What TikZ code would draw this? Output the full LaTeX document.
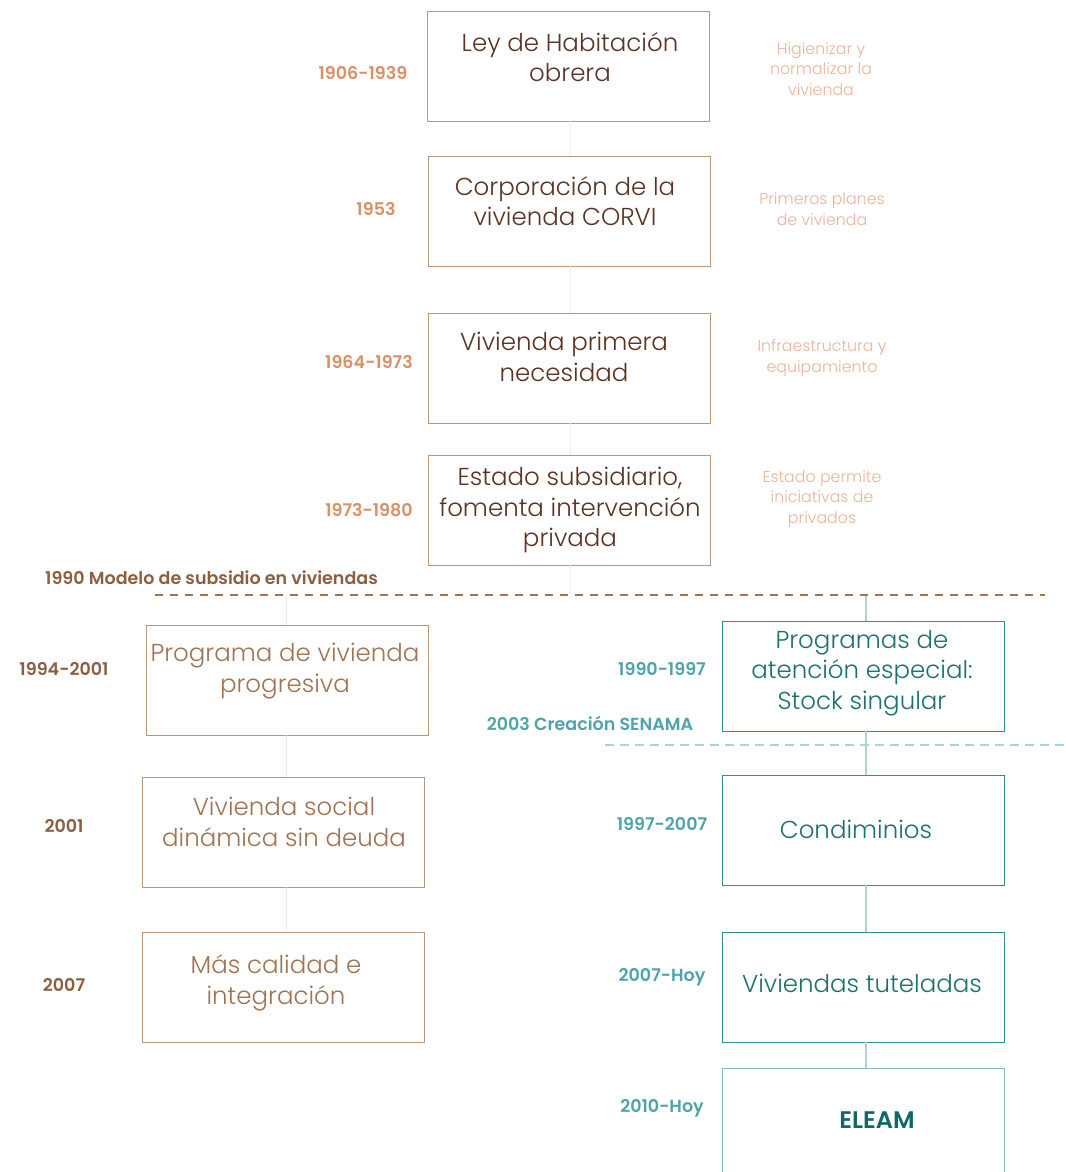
\documentclass[tikz,border=0pt]{standalone}
\usepackage{fontspec}
\setmainfont{Poppins}[UprightFont={* Light}, BoldFont={* SemiBold}]
\definecolor{brdark}{HTML}{5A3322}
\definecolor{brmid}{HTML}{A07352}
\definecolor{brdate}{HTML}{8C5E3F}
\definecolor{brframe}{HTML}{B8967C}
\definecolor{salmon}{HTML}{D98F68}
\definecolor{salmonlt}{HTML}{EBB39B}
\definecolor{tealframe}{HTML}{2E8E8A}
\definecolor{tealtext}{HTML}{1D716C}
\definecolor{tealdate}{HTML}{4FA3AA}
\definecolor{tealdark}{HTML}{0F6A66}
\definecolor{tealline}{HTML}{A9D3D6}
\definecolor{greyline}{HTML}{EDEDED}
\tikzset{
  card/.style={draw=brframe, line width=0.9pt, minimum width=282pt, minimum height=110pt, inner sep=0pt, fill=white},
  tcard/.style={card, draw=tealframe},
  cardtxt/.style={align=center, inner sep=0pt, font=\fontsize{24.5}{30.5}\selectfont, text=brdark},
  lcardtxt/.style={cardtxt, text=brmid},
  tcardtxt/.style={cardtxt, text=tealtext},
  datetop/.style={font=\bfseries\fontsize{17.5}{20}\selectfont, text=salmon, inner sep=0pt},
  dateleft/.style={datetop, text=brdate},
  dateteal/.style={datetop, text=tealdate},
  note/.style={align=center, inner sep=0pt, font=\fontsize{15.8}{20.5}\selectfont, text=salmonlt},
  spine/.style={draw=greyline, line width=1pt},
  tspine/.style={draw=tealline, line width=1.2pt},
}
\begin{document}
\begin{tikzpicture}[x=1pt,y=-1pt]
\useasboundingbox[fill=white] (0,0) rectangle (1065,1172);

% upper timeline: cards
\node[card] (b1) at (568,66) {};
\node[card] (b2) at (569,211) {};
\node[card] (b3) at (569,368) {};
\node[card] (b4) at (569,510) {};

% spine positions and the dashed divider for the subsidy model
\coordinate (d1L) at (155,595);
\coordinate (d1R) at (1045,595);
\coordinate (s1) at (570,595);
\coordinate (sL) at (286,595);
\coordinate (sR) at (866,595);

% teal divider for SENAMA
\coordinate (d2L) at (605,745);
\coordinate (d2R) at (1065,745);

% lower left cards
\node[card] (l1) at (287,680) {};
\node[card] (l2) at (283,832) {};
\node[card] (l3) at (283,987) {};

% lower right cards
\node[tcard] (r1) at (863,676) {};
\node[tcard] (r2) at (863,830) {};
\node[tcard] (r3) at (863,987) {};
\node[tcard, draw=tealframe!60, minimum height=120pt] (r4) at (863,1128) {};

% vertical spines between the cards
\draw[spine] (b1.south -| s1) -- (b2.north -| s1);
\draw[spine] (b2.south -| s1) -- (b3.north -| s1);
\draw[spine] (b3.south -| s1) -- (b4.north -| s1);
\draw[spine] (b4.south -| s1) -- (s1);
\draw[spine] (sL) -- (l1.north -| sL);
\draw[spine] (l1.south -| sL) -- (l2.north -| sL);
\draw[spine] (l2.south -| sL) -- (l3.north -| sL);
\draw[tspine] (sR) -- (r1.north -| sR);
\draw[tspine] (r1.south -| sR) -- (r2.north -| sR);
\draw[tspine] (r2.south -| sR) -- (r3.north -| sR);
\draw[tspine] (r3.south -| sR) -- (r4.north -| sR);

\draw[brmid, line width=1.3pt, dash pattern=on 8pt off 7pt] (d1L) -- (d1R);
\draw[tealline, line width=1.2pt, dash pattern=on 9pt off 6pt] (d2L) -- (d2R);

% card texts
\node[cardtxt] (t1) at (570,57) {Ley de Habitación\\obrera};
\node[cardtxt] (t2) at (565,201) {Corporación de la\\vivienda CORVI};
\node[cardtxt] (t3) at (564,357) {Vivienda primera\\necesidad};
\node[cardtxt] (t4) at (570,510) {Estado subsidiario,\\fomenta intervención\\privada};
\node[lcardtxt] (t5) at (285,671) {Programa de vivienda\\progresiva};
\node[lcardtxt] (t6) at (284,822) {Vivienda social\\dinámica sin deuda};
\node[lcardtxt] (t7) at (276,983) {Más calidad e\\integración};
\node[tcardtxt] (t8) at (862,673) {Programas de\\atención especial:\\Stock singular};
\node[tcardtxt] (t9) at (856,829) {Condiminios};
\node[tcardtxt] (t10) at (862,983) {Viviendas tuteladas};
\node[font=\bfseries\fontsize{24}{28}\selectfont, text=tealdark, inner sep=0pt] (t11) at (877,1120) {ELEAM};

% dates
\node[datetop] (y1) at (363,73) {1906-1939};
\node[datetop] (y2) at (376,209) {1953};
\node[datetop] (y3) at (369,362) {1964-1973};
\node[datetop] (y4) at (369,510) {1973-1980};
\node[dateleft, anchor=west] (y5) at (45,578) {1990 Modelo de subsidio en viviendas};
\node[dateleft] (y6) at (64,669) {1994-2001};
\node[dateleft] (y7) at (64,826) {2001};
\node[dateleft] (y8) at (64,985) {2007};
\node[dateteal] (y9) at (662,669) {1990-1997};
\node[dateteal] (y10) at (590,723) {2003 Creación SENAMA};
\node[dateteal] (y11) at (662,824) {1997-2007};
\node[dateteal] (y12) at (662,977) {2007-Hoy};
\node[dateteal] (y13) at (662,1108) {2010-Hoy};

% notes
\node[note] (n1) at (821,69) {Higienizar y\\normalizar la\\vivienda};
\node[note] (n2) at (822,209) {Primeros planes\\de vivienda};
\node[note] (n3) at (822,358) {Infraestructura y\\equipamiento};
\node[note] (n4) at (822,499) {Estado permite\\iniciativas de\\privados};
\end{tikzpicture}
\end{document}
